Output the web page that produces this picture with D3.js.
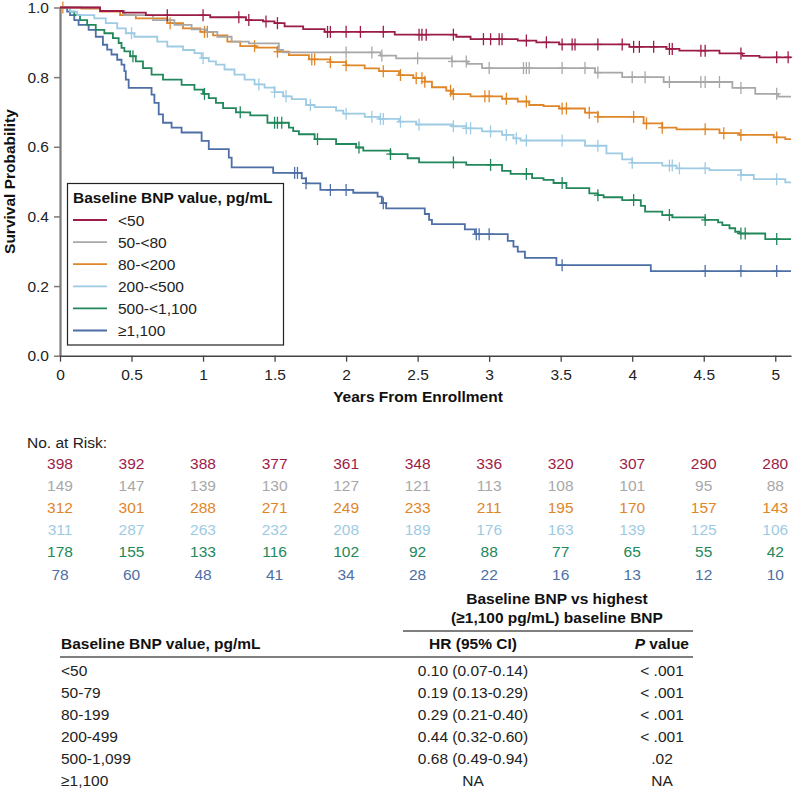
<!DOCTYPE html>
<html>
<head>
<meta charset="utf-8">
<script src="https://cdn.jsdelivr.net/npm/d3@7/dist/d3.min.js"></script>
<style>
  html, body { margin: 0; padding: 0; background: #fff; }
  svg { display: block; font-family: "Liberation Sans", Arial, Helvetica, sans-serif; }
</style>
</head>
<body>
<svg id="chart" width="794" height="790"></svg>
<script>
// ---------------- DATA ----------------
const categories = ["<50", "50-<80", "80-<200", "200-<500", "500-<1,100", "\u22651,100"];
const seriesColors = ["#9c1c47", "#a8a8a8", "#df8629", "#9ecbe4", "#22885b", "#4e6fa6"];

const times_lt50 = [0, 0.28, 0.44, 0.6, 1.05, 1.3, 1.42, 1.5, 1.57, 1.7, 1.85, 2.34, 2.77, 2.87, 3.2, 3.33, 3.49, 3.98, 4.24, 4.33, 4.61, 4.77, 4.89];
const surv_lt50  = [1, 0.99, 0.985, 0.978, 0.972, 0.964, 0.96, 0.955, 0.946, 0.938, 0.93, 0.922, 0.916, 0.909, 0.905, 0.9, 0.894, 0.887, 0.881, 0.876, 0.868, 0.861, 0.857];
const censor_lt50 = [0.75, 1.0, 1.25, 1.32, 1.44, 1.52, 1.87, 1.89, 2.0, 2.1, 2.26, 2.51, 2.53, 2.56, 2.75, 2.96, 3.01, 3.07, 3.09, 3.26, 3.40, 3.51, 3.58, 3.60, 3.76, 3.93, 4.01, 4.05, 4.15, 4.26, 4.28, 4.48, 4.51, 4.76, 5.01, 5.09];

const times_50_80 = [0, 0.28, 0.45, 0.65, 0.8, 0.92, 1.02, 1.1, 1.2, 1.32, 1.53, 1.56, 2.24, 2.35, 2.74, 2.85, 2.95, 3.74, 3.93, 4.22, 4.70, 4.86, 5.02];
const surv_50_80  = [1, 0.99, 0.978, 0.964, 0.95, 0.937, 0.93, 0.916, 0.902, 0.897, 0.878, 0.871, 0.862, 0.854, 0.845, 0.838, 0.826, 0.813, 0.80, 0.786, 0.769, 0.752, 0.744];
const censor_50_80 = [2.0, 2.18, 2.25, 2.50, 2.74, 2.84, 3.0, 3.24, 3.26, 3.28, 3.51, 3.67, 3.76, 4.0, 4.09, 4.26, 4.48, 4.51, 4.61, 4.76, 5.01];

const times_80_200 = [0, 0.15, 0.28, 0.42, 0.53, 0.75, 0.86, 0.98, 1.07, 1.17, 1.26, 1.37, 1.52, 1.6, 1.74, 1.89, 2.0, 2.13, 2.23, 2.37, 2.47, 2.55, 2.6, 2.7, 2.74, 2.87, 3.09, 3.2, 3.28, 3.38, 3.49, 3.67, 3.76, 4.08, 4.21, 4.31, 4.61, 4.75, 4.99, 5.07];
const surv_80_200  = [1, 0.997, 0.988, 0.978, 0.969, 0.955, 0.94, 0.93, 0.92, 0.902, 0.889, 0.885, 0.873, 0.863, 0.851, 0.843, 0.834, 0.825, 0.817, 0.806, 0.797, 0.787, 0.771, 0.761, 0.751, 0.745, 0.738, 0.730, 0.720, 0.717, 0.710, 0.698, 0.686, 0.667, 0.655, 0.650, 0.639, 0.634, 0.627, 0.622];
const censor_80_200 = [0.02, 0.77, 1.01, 1.03, 1.36, 1.52, 1.76, 1.78, 1.89, 2.0, 2.26, 2.38, 2.49, 2.53, 2.55, 2.73, 2.75, 2.97, 3.0, 3.12, 3.26, 3.51, 3.54, 3.70, 3.76, 4.01, 4.10, 4.21, 4.51, 4.64, 4.76, 5.01];

const times_200_500 = [0, 0.07, 0.12, 0.24, 0.32, 0.4, 0.46, 0.52, 0.68, 0.75, 0.86, 0.94, 0.99, 1.04, 1.09, 1.15, 1.22, 1.29, 1.36, 1.43, 1.5, 1.56, 1.62, 1.72, 1.78, 1.93, 1.98, 2.13, 2.23, 2.37, 2.49, 2.74, 2.84, 2.95, 3.09, 3.17, 3.22, 3.67, 3.82, 3.93, 4.0, 4.21, 4.31, 4.54, 4.76, 4.85, 5.07];
const surv_200_500  = [1, 0.988, 0.978, 0.969, 0.955, 0.94, 0.926, 0.916, 0.902, 0.888, 0.878, 0.869, 0.855, 0.845, 0.836, 0.822, 0.807, 0.793, 0.779, 0.77, 0.757, 0.745, 0.737, 0.72, 0.714, 0.704, 0.695, 0.686, 0.68, 0.672, 0.664, 0.659, 0.653, 0.644, 0.634, 0.624, 0.618, 0.603, 0.581, 0.564, 0.554, 0.546, 0.538, 0.533, 0.519, 0.507, 0.498];
const censor_200_500 = [0.50, 1.0, 1.39, 1.50, 1.58, 1.75, 2.0, 2.18, 2.24, 2.26, 2.38, 2.51, 2.75, 2.84, 2.87, 3.01, 3.12, 3.19, 3.26, 3.51, 3.76, 4.0, 4.26, 4.28, 4.33, 4.51, 4.76, 5.01];

const times_500_1100 = [0, 0.07, 0.1, 0.14, 0.19, 0.25, 0.31, 0.37, 0.41, 0.43, 0.45, 0.49, 0.53, 0.58, 0.64, 0.72, 0.85, 0.94, 1.0, 1.04, 1.09, 1.14, 1.23, 1.33, 1.45, 1.6, 1.63, 1.67, 1.78, 1.93, 2.07, 2.12, 2.31, 2.43, 2.51, 2.84, 3.09, 3.15, 3.3, 3.38, 3.45, 3.54, 3.70, 3.76, 3.8, 3.93, 4.06, 4.09, 4.21, 4.28, 4.51, 4.6, 4.63, 4.68, 4.72, 4.75, 4.93];
const surv_500_1100  = [1, 0.988, 0.978, 0.964, 0.95, 0.936, 0.926, 0.912, 0.898, 0.884, 0.874, 0.86, 0.845, 0.826, 0.807, 0.793, 0.778, 0.764, 0.752, 0.74, 0.726, 0.711, 0.699, 0.69, 0.669, 0.655, 0.645, 0.636, 0.622, 0.608, 0.598, 0.589, 0.579, 0.567, 0.555, 0.548, 0.531, 0.522, 0.51, 0.505, 0.496, 0.481, 0.466, 0.461, 0.455, 0.447, 0.43, 0.414, 0.404, 0.397, 0.39, 0.383, 0.375, 0.366, 0.356, 0.351, 0.335];
const censor_500_1100 = [0.51, 1.01, 1.26, 1.50, 1.52, 1.55, 1.80, 2.09, 2.31, 2.75, 3.01, 3.26, 3.51, 3.76, 4.01, 4.26, 4.51, 4.76, 4.79, 5.01];

const times_ge1100 = [0, 0.05, 0.07, 0.1, 0.13, 0.2, 0.25, 0.3, 0.33, 0.36, 0.4, 0.43, 0.45, 0.46, 0.48, 0.64, 0.66, 0.69, 0.72, 0.78, 0.85, 0.99, 1.04, 1.18, 1.2, 1.49, 1.69, 1.72, 1.82, 2.05, 2.22, 2.25, 2.28, 2.55, 2.58, 2.6, 2.83, 2.9, 3.13, 3.17, 3.2, 3.25, 3.47, 4.13];
const surv_ge1100  = [1, 0.988, 0.978, 0.964, 0.95, 0.936, 0.916, 0.893, 0.879, 0.865, 0.85, 0.836, 0.817, 0.793, 0.769, 0.75, 0.726, 0.693, 0.669, 0.655, 0.641, 0.617, 0.593, 0.569, 0.541, 0.525, 0.509, 0.495, 0.476, 0.468, 0.457, 0.438, 0.423, 0.407, 0.39, 0.378, 0.363, 0.349, 0.33, 0.313, 0.299, 0.281, 0.26, 0.243];
const censor_ge1100 = [1.64, 1.66, 1.72, 1.89, 2.0, 2.26, 2.91, 2.93, 3.0, 3.51, 4.51, 4.76, 5.01];

const allTimes = [times_lt50, times_50_80, times_80_200, times_200_500, times_500_1100, times_ge1100];
const allSurv = [surv_lt50, surv_50_80, surv_80_200, surv_200_500, surv_500_1100, surv_ge1100];
const allCensor = [censor_lt50, censor_50_80, censor_80_200, censor_200_500, censor_500_1100, censor_ge1100];
const followUpEnd = 5.11;

const xTicks = [0, 0.5, 1, 1.5, 2, 2.5, 3, 3.5, 4, 4.5, 5];
const yTicks = [0, 0.2, 0.4, 0.6, 0.8, 1.0];

const riskTimes = [0, 0.5, 1, 1.5, 2, 2.5, 3, 3.5, 4, 4.5, 5];
const risk_lt50 = [398, 392, 388, 377, 361, 348, 336, 320, 307, 290, 280];
const risk_50_80 = [149, 147, 139, 130, 127, 121, 113, 108, 101, 95, 88];
const risk_80_200 = [312, 301, 288, 271, 249, 233, 211, 195, 170, 157, 143];
const risk_200_500 = [311, 287, 263, 232, 208, 189, 176, 163, 139, 125, 106];
const risk_500_1100 = [178, 155, 133, 116, 102, 92, 88, 77, 65, 55, 42];
const risk_ge1100 = [78, 60, 48, 41, 34, 28, 22, 16, 13, 12, 10];
const allRisk = [risk_lt50, risk_50_80, risk_80_200, risk_200_500, risk_500_1100, risk_ge1100];

const tableGroups = ["<50", "50-79", "80-199", "200-499", "500-1,099", "\u22651,100"];
const tableHR = ["0.10 (0.07-0.14)", "0.19 (0.13-0.29)", "0.29 (0.21-0.40)", "0.44 (0.32-0.60)", "0.68 (0.49-0.94)", "NA"];
const tableP = ["< .001", "< .001", "< .001", "< .001", ".02", "NA"];

// ---------------- DRAW ----------------
(function draw() {
const svg = d3.select("#chart");
const FS = 15.5;
const pLeft = 60, pRight = 791, pTop = 7.5, pBottom = 355.7;

const x = d3.scaleLinear().domain([0, followUpEnd]).range([pLeft, pRight]);
const y = d3.scaleLinear().domain([0, 1]).range([pBottom, pTop]);

// Y axis
const yAxis = svg.append("g")
  .attr("transform", `translate(${pLeft},0)`)
  .call(d3.axisLeft(y).tickValues(yTicks).tickFormat(d3.format(".1f")).tickSize(6).tickSizeOuter(0));
yAxis.select(".domain").attr("stroke", "#7a7a7a").attr("stroke-width", 2.2);
yAxis.selectAll(".tick line").attr("stroke", "#7a7a7a").attr("stroke-width", 1.5);
yAxis.selectAll(".tick text").attr("font-size", FS).attr("fill", "#222").attr("x", -11)
  .attr("font-family", "Liberation Sans, Arial, sans-serif");

// X axis
const xAxis = svg.append("g")
  .attr("transform", `translate(0,${pBottom})`)
  .call(d3.axisBottom(x).tickValues(xTicks).tickFormat(d3.format("")).tickSize(6).tickSizeOuter(0));
xAxis.select(".domain").attr("stroke", "#444").attr("stroke-width", 1.6);
xAxis.selectAll(".tick line").attr("stroke", "#444").attr("stroke-width", 1.3);
xAxis.selectAll(".tick text").attr("font-size", FS).attr("fill", "#222").attr("y", 13)
  .attr("font-family", "Liberation Sans, Arial, sans-serif");

// axis titles
svg.append("text")
  .attr("transform", `translate(15,${(pTop + pBottom) / 2}) rotate(-90)`)
  .attr("text-anchor", "middle").attr("font-weight", "bold").attr("font-size", FS).attr("fill", "#111")
  .text("Survival Probability");
svg.append("text")
  .attr("x", 418).attr("y", 402)
  .attr("text-anchor", "middle").attr("font-weight", "bold").attr("font-size", FS).attr("fill", "#111")
  .text("Years From Enrollment");

// curves
const line = d3.line().curve(d3.curveStepAfter).x(d => x(d[0])).y(d => y(d[1]));
function survAt(ts, ss, t) {
  let v = ss[0];
  for (let i = 0; i < ts.length; i++) { if (ts[i] <= t) v = ss[i]; }
  return v;
}
const curveG = svg.append("g");
for (let k = categories.length - 1; k >= 0; k--) {
  const ts = allTimes[k], ss = allSurv[k];
  const pts = ts.map((t, i) => [t, ss[i]]);
  pts.push([followUpEnd, ss[ss.length - 1]]);
  curveG.append("path").datum(pts)
    .attr("d", line).attr("fill", "none")
    .attr("stroke", seriesColors[k]).attr("stroke-width", 1.8);
  const cg = curveG.append("g").attr("stroke", seriesColors[k]).attr("stroke-width", 1.3);
  allCensor[k].forEach(t => {
    const cx = x(t), cy = y(survAt(ts, ss, t));
    cg.append("line").attr("x1", cx).attr("x2", cx).attr("y1", cy - 6).attr("y2", cy + 6);
    cg.append("line").attr("x1", cx - 4).attr("x2", cx + 4).attr("y1", cy).attr("y2", cy);
  });
}

// legend
const lg = svg.append("g");
lg.append("rect").attr("x", 67.5).attr("y", 183.5).attr("width", 216).attr("height", 161.5)
  .attr("fill", "#fff").attr("stroke", "#222").attr("stroke-width", 1.2);
lg.append("text").attr("x", 73).attr("y", 202.5).attr("font-weight", "bold").attr("font-size", FS).attr("fill", "#111")
  .text("Baseline BNP value, pg/mL");
categories.forEach((c, i) => {
  const cy = 220 + i * 22.1;
  lg.append("line").attr("x1", 73).attr("x2", 107).attr("y1", cy).attr("y2", cy)
    .attr("stroke", seriesColors[i]).attr("stroke-width", 1.8);
  lg.append("text").attr("x", 118).attr("y", cy + 5.5).attr("font-size", FS).attr("fill", "#222").text(c);
});

// risk table
svg.append("text").attr("x", 27).attr("y", 447.5).attr("font-size", FS).attr("fill", "#222").text("No. at Risk:");
allRisk.forEach((row, i) => {
  const cy = 463.5 + i * 22.1;
  row.forEach((v, j) => {
    svg.append("text").attr("x", x(riskTimes[j])).attr("y", cy + 5.5)
      .attr("text-anchor", "middle").attr("font-size", FS).attr("fill", seriesColors[i]).text(v);
  });
});

// HR table
const hrX = 473, pX = 662;
svg.append("text").attr("x", 557).attr("y", 603.5).attr("text-anchor", "middle")
  .attr("font-weight", "bold").attr("font-size", FS).attr("fill", "#111").text("Baseline BNP vs highest");
svg.append("text").attr("x", 557).attr("y", 622.5).attr("text-anchor", "middle")
  .attr("font-weight", "bold").attr("font-size", FS).attr("fill", "#111").text("(\u22651,100 pg/mL) baseline BNP");
svg.append("line").attr("x1", 403).attr("x2", 693).attr("y1", 631).attr("y2", 631)
  .attr("stroke", "#555").attr("stroke-width", 1.5);
svg.append("text").attr("x", 61).attr("y", 648.5)
  .attr("font-weight", "bold").attr("font-size", FS).attr("fill", "#111").text("Baseline BNP value, pg/mL");
svg.append("text").attr("x", hrX).attr("y", 648.5).attr("text-anchor", "middle")
  .attr("font-weight", "bold").attr("font-size", FS).attr("fill", "#111").text("HR (95% CI)");
const pv = svg.append("text").attr("x", 689).attr("y", 648.5).attr("text-anchor", "end")
  .attr("font-weight", "bold").attr("font-size", FS).attr("fill", "#111");
pv.append("tspan").attr("font-style", "italic").text("P");
pv.append("tspan").text(" value");
svg.append("line").attr("x1", 60).attr("x2", 693).attr("y1", 657).attr("y2", 657)
  .attr("stroke", "#555").attr("stroke-width", 1.5);
tableGroups.forEach((g, i) => {
  const cy = 670 + i * 22;
  svg.append("text").attr("x", 61).attr("y", cy + 5.5).attr("font-size", FS).attr("fill", "#222").text(g);
  svg.append("text").attr("x", hrX).attr("y", cy + 5.5).attr("text-anchor", "middle")
    .attr("font-size", FS).attr("fill", "#222").text(tableHR[i]);
  svg.append("text").attr("x", pX).attr("y", cy + 5.5).attr("text-anchor", "middle")
    .attr("font-size", FS).attr("fill", "#222").text(tableP[i]);
});
})();
</script>
</body>
</html>
